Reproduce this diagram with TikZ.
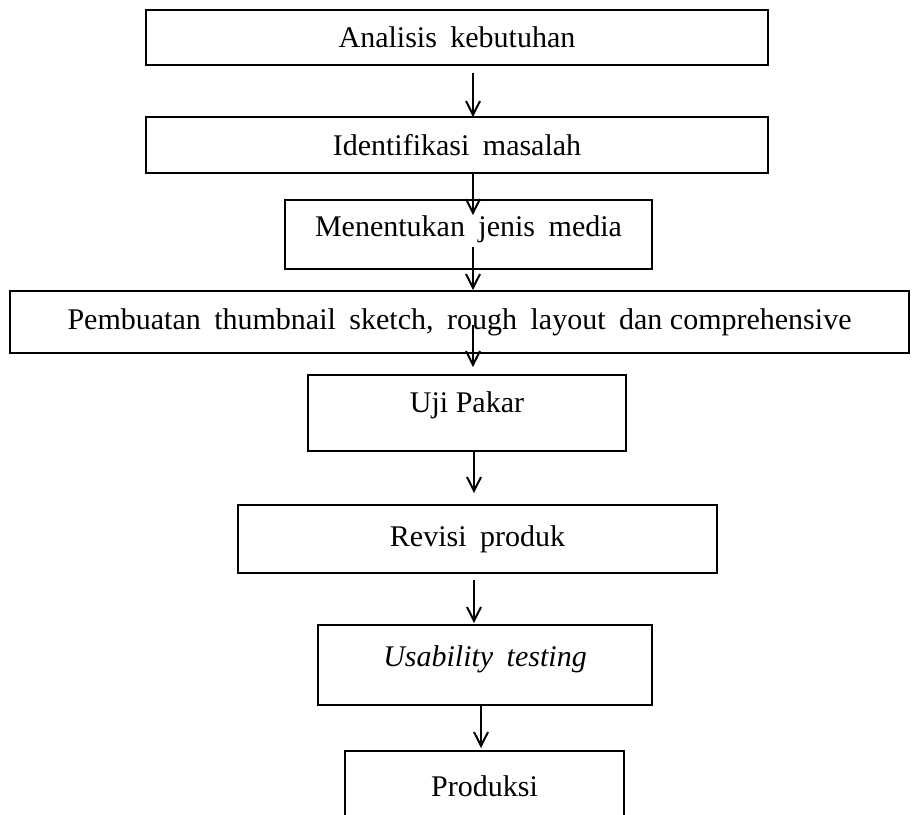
\documentclass[tikz,border=0pt]{standalone}
\usepackage{fontspec}
\setmainfont{Liberation Serif}
\usetikzlibrary{arrows.meta}
\newcommand{\wsp}{\hspace{0.45em}}
\newcommand{\pxu}{0.4pt}

\begin{document}
\begin{tikzpicture}[>={Straight Barb[length=5.5pt,width=5.6pt]},
  x=\pxu, y=-\pxu,
  stepbox/.style={rectangle, draw, line width=0.9pt,
    inner sep=0pt, outer sep=0pt,
    font=\fontsize{12}{14}\selectfont,
    anchor=center},
  flow/.style={->, line width=0.8pt}]
  %
  \useasboundingbox (0,0) rectangle (912,814);

  \node[stepbox, minimum width=622*\pxu, minimum height=55*\pxu] (B1) at (457,37.5)
    {Analisis\wsp kebutuhan};
  \node[stepbox, minimum width=622*\pxu, minimum height=56*\pxu] (B2) at (457,145)
    {Identifikasi\wsp masalah};
  \node[stepbox, minimum width=367*\pxu, minimum height=69*\pxu, text depth=6.5pt] (B3) at (468.5,234.5)
    {Menentukan\wsp jenis\wsp media};
  \node[stepbox, minimum width=899*\pxu, minimum height=62*\pxu] (B4) at (459.5,322)
    {Pembuatan\wsp thumbnail\wsp sketch,\wsp rough\wsp layout\wsp dan comprehensive};
  \node[stepbox, minimum width=318*\pxu, minimum height=76*\pxu, text depth=9pt] (B5) at (467,413)
    {Uji Pakar};
  \node[stepbox, minimum width=479*\pxu, minimum height=68*\pxu] (B6) at (477.5,539)
    {Revisi\wsp produk};
  \node[stepbox, minimum width=334*\pxu, minimum height=80*\pxu, text depth=7pt] (B7) at (485,665)
    {\itshape Usability\wsp testing};
  \node[stepbox, minimum width=279*\pxu, minimum height=70*\pxu] (B8) at (484.5,786)
    {Produksi};

  \coordinate (T1) at (473,73);
  \coordinate (H1) at (473,117);
  \draw[flow] (T1) -- (H1);
  \coordinate (T2) at (473,172);
  \coordinate (H2) at (473,215);
  \draw[flow] (T2) -- (H2);
  \coordinate (T3) at (473,247);
  \coordinate (H3) at (473,290);
  \draw[flow] (T3) -- (H3);
  \coordinate (T4) at (473,325);
  \coordinate (H4) at (473,367);
  \draw[flow] (T4) -- (H4);
  \coordinate (T5) at (474,451);
  \coordinate (H5) at (474,493);
  \draw[flow] (T5) -- (H5);
  \coordinate (T6) at (474,580);
  \coordinate (H6) at (474,623);
  \draw[flow] (T6) -- (H6);
  \coordinate (T7) at (481,705);
  \coordinate (H7) at (481,748);
  \draw[flow] (T7) -- (H7);

\end{tikzpicture}
\end{document}
